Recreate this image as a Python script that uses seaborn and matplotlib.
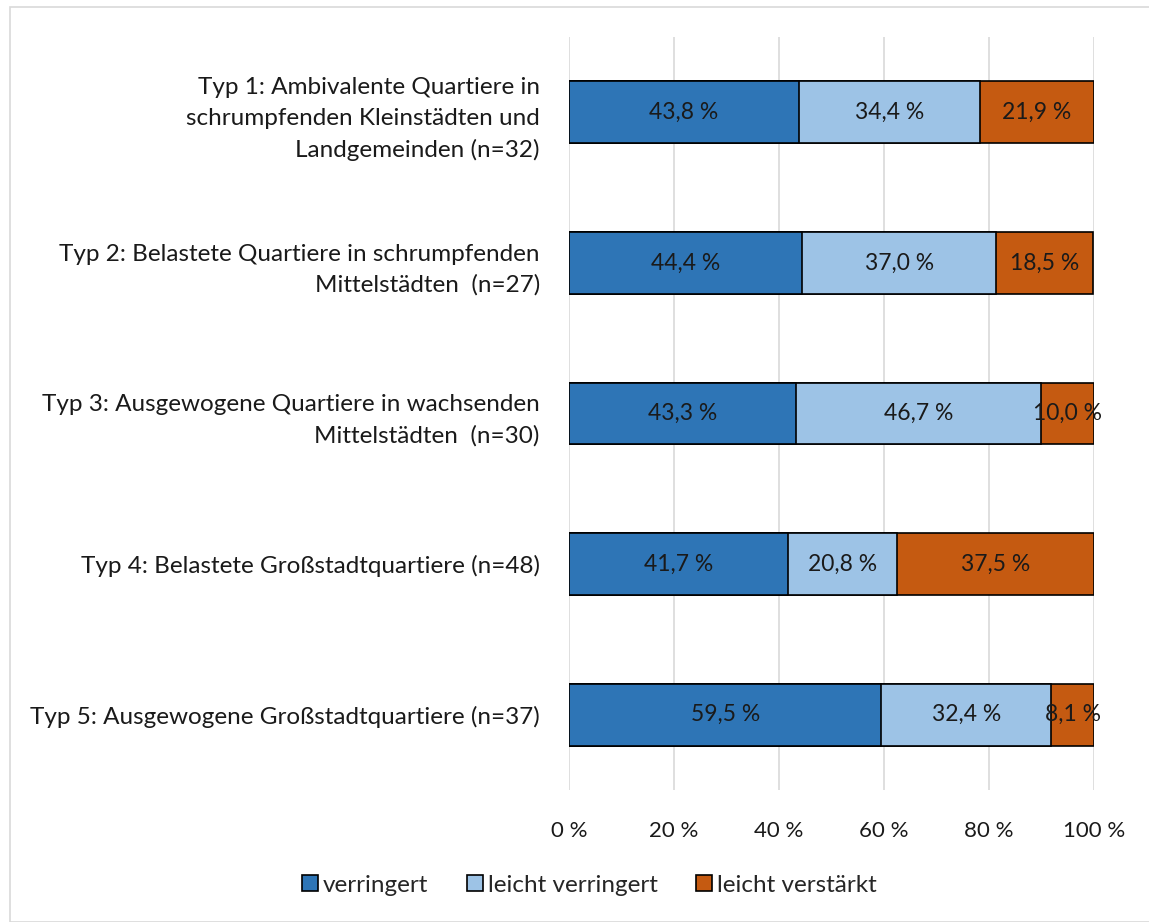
import matplotlib
matplotlib.use("Agg")
import matplotlib.pyplot as plt
import seaborn as sns
import pandas as pd
import numpy as np
from matplotlib.patches import Rectangle, Patch

categories = [
    "Typ 1: Ambivalente Quartiere in\nschrumpfenden Kleinstädten und\nLandgemeinden (n=32)",
    "Typ 2: Belastete Quartiere in schrumpfenden\nMittelstädten  (n=27)",
    "Typ 3: Ausgewogene Quartiere in wachsenden\nMittelstädten  (n=30)",
    "Typ 4: Belastete Großstadtquartiere (n=48)",
    "Typ 5: Ausgewogene Großstadtquartiere (n=37)",
]
series_names = ["verringert", "leicht verringert", "leicht verstärkt"]
verringert = [43.8, 44.4, 43.3, 41.7, 59.5]
leicht_verringert = [34.4, 37.0, 46.7, 20.8, 32.4]
leicht_verstaerkt = [21.9, 18.5, 10.0, 37.5, 8.1]
x_ticks = [0, 20, 40, 60, 80, 100]
x_tick_labels = ["0 %", "20 %", "40 %", "60 %", "80 %", "100 %"]
colors = ["#2E75B6", "#9DC3E6", "#C55A11"]

sns.set_theme(style="white")
plt.rcParams["font.family"] = ["Lato", "DejaVu Sans"]

fig = plt.figure(figsize=(11.49, 9.22), dpi=100)
ax = fig.add_axes([0.4952, 0.143, 0.4569, 0.817])

vals = [verringert, leicht_verringert, leicht_verstaerkt]
cum = np.cumsum(np.array(vals), axis=0)
cum = np.minimum(cum, 100.0)

for i in reversed(range(3)):
    df = pd.DataFrame({"cat": categories, "val": cum[i]})
    sns.barplot(data=df, x="val", y="cat", orient="h", color=colors[i],
                saturation=1, edgecolor="black", linewidth=1.2, width=0.41,
                ax=ax, zorder=3)

for j, cat in enumerate(categories):
    left = 0
    for i in range(3):
        v = vals[i][j]
        ax.text(left + v / 2, j, f"{v:.1f} %".replace(".", ","), ha="center",
                va="center", fontsize=16.5, color="#1a1a1a", zorder=5)
        left += v

ax.set_xlim(0, 100)
ax.set_ylim(4.5, -0.5)
ax.set_xticks(x_ticks)
ax.set_xticklabels(x_tick_labels, fontsize=16, color="#1a1a1a")
ax.set_yticks(range(len(categories)))
ax.set_yticklabels(categories, fontsize=17.5, color="#1a1a1a", linespacing=1.55)
ax.tick_params(axis="x", length=0, pad=22)
ax.tick_params(axis="y", length=0, pad=21)
ax.set_xlabel("")
ax.set_ylabel("")
ax.grid(axis="x", color="#d9d9d9", linewidth=1.2, zorder=0)
ax.grid(axis="y", visible=False)
for s in ax.spines.values():
    s.set_visible(False)

handles = [Patch(facecolor=c, edgecolor="black", linewidth=1.2) for c in colors]
fig.legend(handles, series_names, loc="center", bbox_to_anchor=(0.513, 0.04),
           ncol=3, frameon=False, fontsize=17.5, handlelength=0.65,
           handleheight=0.65, handletextpad=0.2, columnspacing=1.6)

fig.patches.append(Rectangle((10 / 1149, 0.0), 1.2, 1 - 7 / 922 - 0.0,
                             transform=fig.transFigure, fill=False,
                             edgecolor="#d9d9d9", linewidth=1.2))

fig.savefig("out.png", dpi=100, facecolor="white")
